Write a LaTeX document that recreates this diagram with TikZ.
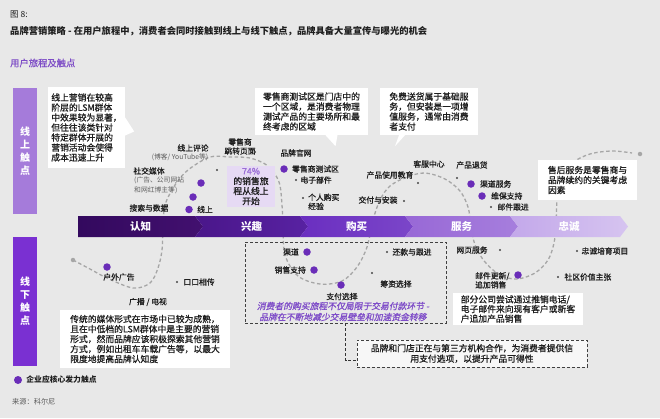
\documentclass[tikz,border=0pt]{standalone}
\usepackage{fontspec}
\setmainfont{Noto Sans CJK SC}
\newfontfamily\medcjk[FakeBold=0.9]{Noto Sans CJK SC}
\newfontfamily\slantcjk[FakeSlant=0.2,FakeBold=0.9]{Noto Sans CJK SC}
\usetikzlibrary{positioning}

\definecolor{bgc}{HTML}{E8E8E8}
\definecolor{txtc}{HTML}{1E1E1E}
\definecolor{kpurple}{HTML}{6A2DB8}
\definecolor{headpurple}{HTML}{7D4CC6}
\definecolor{notepurple}{HTML}{7E4CC8}
\definecolor{barup}{HTML}{A57BDA}
\definecolor{bardown}{HTML}{7A30D2}
\definecolor{lav}{HTML}{E6DAF4}
\definecolor{pcnt}{HTML}{9B6FD6}
\definecolor{sta}{HTML}{33095E}\definecolor{stb}{HTML}{42106F}
\definecolor{stc}{HTML}{4A168A}\definecolor{std}{HTML}{5822A2}
\definecolor{ste}{HTML}{6A2EC0}\definecolor{stf}{HTML}{7B46C9}
\definecolor{stg}{HTML}{9868D6}\definecolor{sth}{HTML}{A67EDD}
\definecolor{sti}{HTML}{C3A8EA}\definecolor{stj}{HTML}{D6C4F0}

\begin{document}
\begin{tikzpicture}[x=1pt,y=-1pt,
  lbl/.style={font=\medcjk\fontsize{7.8}{9}\selectfont, text=txtc, inner sep=0pt},
  sublbl/.style={font=\fontsize{6.8}{9.5}\selectfont, text=gray!75!black, inner sep=0pt, align=left},
  kdot/.style={circle, fill=kpurple, minimum size=7.5pt, inner sep=0pt},
  sdot/.style={circle, fill=gray!55!black, minimum size=2.2pt, inner sep=0pt},
  note/.style={fill=white, align=left, inner sep=0pt, font=\medcjk\fontsize{8.8}{10}\selectfont, text=txtc},
  stage/.style={text=white, font=\bfseries\fontsize{10.5}{12}\selectfont},
  wave/.style={draw=gray!70, line width=1.3pt, dash pattern=on 3.5pt off 2.5pt},
  conn/.style={draw=gray!40!black, line width=0.9pt, dash pattern=on 3pt off 2pt},
  bar/.style={minimum width=24pt, text=white, align=center, inner sep=0pt, font=\bfseries\fontsize{10}{13}\selectfont}
]
\useasboundingbox (0,0) rectangle (660,418);
\fill[bgc] (0,0) rectangle (660,418);

% heading
\node[anchor=west, inner sep=0pt, font=\fontsize{8.5}{10}\selectfont, text=txtc] (figno) at (10,14) {图 8:};
\node[anchor=west, inner sep=0pt, font=\bfseries\fontsize{9.3}{11}\selectfont, text=txtc] (title) at (10,31)
  {品牌营销策略 - 在用户旅程中，消费者会同时接触到线上与线下触点，品牌具备大量宣传与曝光的机会};
\node[anchor=west, inner sep=0pt, font=\medcjk\fontsize{9.3}{11}\selectfont, text=headpurple] (subttl) at (10,63) {用户旅程及触点};

% side bars
\node[bar, fill=barup, minimum height=126pt] (onbar) at (25,151) {线\\上\\触\\点};
\node[bar, fill=bardown, minimum height=129pt] (offbar) at (25,301.5) {线\\下\\触\\点};

% journey wave
\draw[wave] plot[smooth, tension=0.55] coordinates {
  (73,260) (90,269) (107,278) (133,288) (150,283) (158,268) (162,250) (163,227)
  (165,205) (175,185) (188,170) (210,157) (230,157) (250,158) (268,166) (279,182)
  (282,205) (283,227) (285,255) (298,276) (320,284) (342,281) (357,267) (367,247)
  (373,220) (380,200) (390,186) (407,177) (425,173) (445,179) (460,191) (468,207)
  (471,225) (475,245) (485,262) (500,275) (517,279) (535,273) (548,260) (554,243)
  (556,225) (557,200) (560,178) (572,163) (590,154) (612,151) (632,153)};
\node[circle, fill=gray!70, minimum size=4.5pt, inner sep=0pt] (wavestart) at (73,260) {};
\node[circle, fill=gray!70, minimum size=4.5pt, inner sep=0pt] (waveend) at (640,154) {};

% stage band
\foreach \xa/\xb/\nd/\ca/\cb/\nm/\txt in {78/195/0/sta/stb/aware/认知, 195/300/8/stc/std/interest/兴趣,
    300/405/8/ste/stf/buy/购买, 405/510/8/stg/sth/service/服务, 510/620/8/sti/stj/loyal/忠诚}{
  \shade[left color=\ca, right color=\cb] (\xa,216) -- (\xb,216) -- (\xb+8,226.5) -- (\xb,237)
    -- (\xa,237) -- (\xa+\nd,226.5) -- cycle;
  \node[stage] (\nm) at ({(\xa+\xb)/2+4},226.5) {\txt};
}

% callouts
\node[note, minimum width=77pt, minimum height=81pt] (onlinenote) at (86.5,127.5)
  {线上营销在较高\\阶层的LSM群体\\中效果较为显著，\\但往往该类针对\\特定群体开展的\\营销活动会使得\\成本迅速上升};
\fill[white] (onlinenote.east) ++(0,-10) -- ++(9,14) -- ++(-9,4) -- cycle;
\node[note, minimum width=113pt, minimum height=47pt] (testzonenote) at (311.5,111.5)
  {零售商测试区是门店中的\\一个区域，是消费者物理\\测试产品的主要场所和最\\终考虑的区域};
\fill[white] (testzonenote.south) ++(14,0) -- ++(10,11) -- ++(2,-11) -- cycle;
\node[note, minimum width=98pt, minimum height=47pt] (deliverynote) at (429,111.5)
  {免费送货属于基础服\\务，但安装是一项增\\值服务，通常由消费\\者支付};
\fill[white] (deliverynote.south) ++(-30,0) -- ++(-4,11) -- ++(10,-11) -- cycle;
\node[note, minimum width=99pt, minimum height=40pt] (aftersalenote) at (587.5,180)
  {售后服务是零售商与\\品牌续约的关键考虑\\因素};
\node[note, minimum width=170pt, minimum height=58pt] (tradnote) at (145,339)
  {传统的媒体形式在市场中已较为成熟，\\且在中低档的LSM群体中是主要的营销\\形式，然而品牌应该积极探索其他营销\\方式，例如出租车车载广告等，以最大\\限度地提高品牌认知度};
\node[note, minimum width=130pt, minimum height=32pt, font=\medcjk\fontsize{8.8}{9.6}\selectfont] (upsellnote) at (518,309)
  {部分公司尝试通过推销电话/\\电子邮件来向现有客户或新客\\户追加产品销售};

% online touchpoints
\node[lbl] (review) at (193,148) {线上评论};
\node[sublbl] (reviewsub) at (180,157) {(博客/ YouTube等)};
\node[lbl, align=center] (jump) at (240,146.5) {零售商\\跳转页面};
\node[lbl] (social) at (149,171) {社交媒体};
\node[sublbl, anchor=west] (socialsub) at (134,185.5) {(广告、公司网站\\和网红博主等)};
\node[lbl] (search) at (149,208) {搜索与数据};
\node[kdot] (ds1) at (201,183) {};
\node[kdot] (ds2) at (193,197) {};
\node[kdot] (ds3) at (189,209.5) {};
\node[lbl, right=4pt of ds3] (online) {线上};
\node[sdot] (sd1) at (217,170) {};
\node[sdot] (sd2) at (255,152) {};
\node[fill=lav, minimum width=48pt, minimum height=41pt, inner sep=0pt, align=center,
  font=\medcjk\fontsize{8.8}{10}\selectfont, text=txtc] (share) at (251,186.5)
  {\textcolor{pcnt}{74\%}\\的销售旅\\程从线上\\开始};
\node[lbl] (brandsite) at (296,153) {品牌官网};
\node[kdot] (dtest) at (284,169) {};
\node[lbl, right=4pt of dtest] (testzone) {零售商测试区};
\node[sdot] (sd3) at (296,180) {};
\node[lbl, right=3pt of sd3] (emailparts) {电子部件};
\node[sdot] (sd4) at (303,198) {};
\node[lbl, anchor=north west, align=left] (ownexp) at (308,193.5) {个人购买\\经验};
\node[lbl] (usage) at (390,175) {产品使用教育};
\node[sdot] (sd5) at (418,183) {};
\node[lbl] (install) at (378,200) {交付与安装};
\node[sdot] (sd6) at (404,201) {};
\node[lbl] (callcenter) at (429,164) {客服中心};
\node[lbl] (returns) at (472,165) {产品退货};
\node[sdot] (sd7) at (457,178) {};
\node[kdot] (dchan) at (471,184) {};
\node[lbl, right=5pt of dchan] (chanserv) {渠道服务};
\node[kdot] (dwarr) at (482,196) {};
\node[lbl, right=5pt of dwarr] (warranty) {维保支持};
\node[sdot] (sd8) at (491,207) {};
\node[lbl, right=5pt of sd8] (mailfollow) {邮件跟进};

% offline touchpoints
\node[kdot] (doutdoor) at (107,267) {};
\node[lbl] (outdoor) at (119,277) {户外广告};
\node[sdot] (sd9) at (177,282) {};
\node[lbl, right=5pt of sd9] (wom) {口口相传};
\node[lbl] (radio) at (148,302) {广播 / 电视};

\node[draw=gray!50!black, dash pattern=on 3pt off 2pt, line width=0.9pt, minimum width=201pt,
  minimum height=81pt, inner sep=0pt] (buyzone) at (345.5,282.5) {};
\node[kdot] (dchannel) at (307,252) {};
\node[lbl, left=4pt of dchannel] (channel) {渠道};
\node[kdot] (dsales) at (314,270) {};
\node[lbl, left=4pt of dsales] (salessup) {销售支持};
\node[kdot] (dpay) at (341,285) {};
\node[lbl] (payopt) at (342,296.5) {支付选择};
\node[sdot] (sd10) at (387,252) {};
\node[lbl, right=4pt of sd10] (repay) {还款与跟进};
\node[sdot] (sd11) at (372,273) {};
\node[lbl] (finance) at (396,284) {筹资选择};
\node[inner sep=0pt, align=center, text=notepurple, font=\slantcjk\fontsize{8.8}{11}\selectfont] (buynote)
  at (343,311.5) {消费者的购买旅程不仅局限于交易付款环节 -\\品牌在不断地减少交易壁垒和加速资金转移};
\node[draw=gray!50!black, dash pattern=on 3pt off 2pt, line width=0.9pt, fill=gray!6, minimum width=230pt,
  minimum height=27pt, inner sep=0pt, align=center, font=\medcjk\fontsize{8.8}{10.5}\selectfont, text=txtc] (creditnote)
  at (472,353.5) {品牌和门店正在与第三方机构合作，为消费者提供信\\用支付选项，以提升产品可得性};
\draw[conn] (buyzone.south) |- ([yshift=-7pt]creditnote.west);

\node[lbl] (webserv) at (472,250) {网页服务};
\node[sdot] (sd12) at (500,250) {};
\node[kdot] (dupsell) at (518,275) {};
\node[lbl, anchor=north west, align=left] (mailupd) at (475,272) {邮件更新/\\追加销售};
\node[sdot] (sd13) at (577,251) {};
\node[lbl, right=3pt of sd13] (loyalprog) {忠诚培育项目};
\node[sdot] (sd14) at (558,277) {};
\node[lbl, right=5pt of sd14] (community) {社区价值主张};

% legend and source
\node[kdot, minimum size=8pt] (legdot) at (18,380) {};
\node[lbl, right=4pt of legdot, font=\bfseries\fontsize{7.8}{9}\selectfont] (legend) {企业应核心发力触点};
\node[anchor=west, inner sep=0pt, font=\fontsize{7.2}{9}\selectfont, text=gray!70!black] (source) at (12,402) {来源：科尔尼};
\end{tikzpicture}
\end{document}
